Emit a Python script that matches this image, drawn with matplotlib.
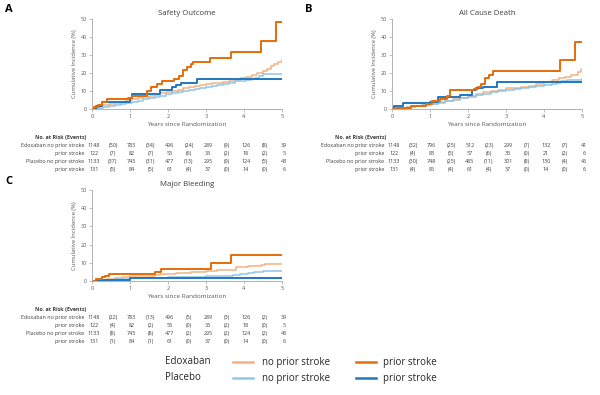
import numpy as np
import matplotlib
matplotlib.use("Agg")
from matplotlib import pyplot as plt
from matplotlib.lines import Line2D
from matplotlib.transforms import blended_transform_factory

plt.rcParams['font.family'] = ['Open Sans', 'DejaVu Sans']

"""Datos"""

# colores
C_EDOX_NP = '#F4B183'
C_EDOX_P = '#E46C0A'
C_PLAC_NP = '#92C5E8'
C_PLAC_P = '#1F78C1'

titles = ["Safety Outcome", "All Cause Death", "Major Bleeding"]
panel_letters = ["A", "B", "C"]

# A - Safety Outcome
a_edox_np_t = [0, 0.1, 0.2, 0.3, 0.45, 0.6, 0.75, 0.9, 1.05, 1.2, 1.35, 1.5, 1.65, 1.8, 1.95, 2.1, 2.25, 2.4,
               2.55, 2.7, 2.85, 3.0, 3.15, 3.3, 3.45, 3.6, 3.75, 3.9, 4.05, 4.2, 4.35, 4.5, 4.6, 4.7, 4.8, 4.9, 5.0]
a_edox_np_v = [0, 0.8, 1.5, 2.2, 2.9, 3.5, 4.1, 4.8, 5.5, 6.1, 6.7, 7.4, 8.0, 8.7, 9.3, 10.0, 10.7, 11.4,
               12.0, 12.6, 13.2, 13.8, 14.3, 14.7, 15.1, 15.6, 16.2, 17.0, 17.8, 18.8, 19.8, 21.2, 22.5, 23.8, 25.0, 26.2, 27.0]
a_edox_p_t = [0, 0.05, 0.15, 0.25, 0.4, 0.95, 1.05, 1.45, 1.55, 1.7, 1.85, 2.15, 2.3, 2.4, 2.5, 2.6, 2.65,
              3.1, 3.65, 4.45, 4.85, 5.0]
a_edox_p_v = [0, 1.0, 2.5, 3.8, 5.3, 6.3, 7.5, 10.0, 12.5, 14.0, 15.5, 16.5, 18.5, 21.5, 23.5, 25.0, 26.0,
              28.3, 31.8, 37.8, 48.2, 48.2]
a_plac_np_t = [0, 0.15, 0.3, 0.45, 0.6, 0.75, 0.9, 1.05, 1.2, 1.35, 1.5, 1.65, 1.8, 1.95, 2.1, 2.25, 2.4, 2.55,
               2.7, 2.85, 3.0, 3.15, 3.3, 3.45, 3.6, 3.75, 3.9, 4.05, 4.2, 4.3, 4.4, 4.5, 4.7, 5.0]
a_plac_np_v = [0, 0.5, 1.0, 1.6, 2.1, 2.7, 3.3, 4.0, 4.7, 5.4, 6.0, 6.8, 7.5, 8.2, 8.8, 9.4, 10.0, 10.5,
               11.1, 11.7, 12.3, 12.9, 13.5, 14.1, 14.7, 15.3, 15.8, 16.2, 16.8, 17.5, 18.5, 19.3, 19.6, 19.6]
a_plac_p_t = [0, 0.1, 0.25, 1.0, 1.05, 1.8, 2.1, 2.2, 2.35, 2.75, 5.0]
a_plac_p_v = [0, 1.8, 4.0, 6.0, 8.5, 10.3, 12.0, 13.2, 14.5, 16.7, 16.7]

# B - All Cause Death
b_edox_np_t = [0, 0.2, 0.4, 0.6, 0.8, 1.0, 1.2, 1.4, 1.6, 1.8, 2.0, 2.2, 2.4, 2.6, 2.8, 3.0, 3.2, 3.4, 3.6,
               3.8, 4.0, 4.2, 4.4, 4.55, 4.7, 4.9, 4.97, 5.0]
b_edox_np_v = [0, 0.5, 1.0, 1.6, 2.2, 3.0, 3.8, 4.6, 5.4, 6.3, 7.2, 8.3, 9.4, 10.2, 10.8, 11.4, 11.9, 12.4, 13.0,
               14.0, 15.0, 16.0, 17.0, 18.0, 19.0, 20.5, 22.5, 22.5]
b_edox_p_t = [0, 0.1, 0.5, 0.9, 1.05, 1.25, 1.45, 1.52, 2.15, 2.25, 2.35, 2.45, 2.55, 2.65, 4.42, 4.82, 5.0]
b_edox_p_v = [0, 0.5, 1.5, 3.0, 4.5, 5.5, 7.5, 10.5, 11.2, 12.0, 14.0, 17.0, 19.0, 21.0, 27.0, 37.5, 37.5]
b_plac_np_t = [0, 0.2, 0.4, 0.6, 0.8, 1.0, 1.2, 1.4, 1.6, 1.8, 2.0, 2.2, 2.4, 2.6, 2.8, 3.0, 3.2, 3.4, 3.6,
               3.8, 4.0, 4.2, 4.35, 4.45, 4.6, 5.0]
b_plac_np_v = [0, 0.4, 0.9, 1.4, 2.0, 2.7, 3.4, 4.2, 5.0, 5.9, 6.8, 7.6, 8.4, 9.2, 9.8, 10.3, 10.9, 11.6, 12.2,
               12.9, 13.5, 13.8, 14.2, 15.5, 16.3, 16.5]
b_plac_p_t = [0, 0.05, 0.28, 1.0, 1.2, 1.8, 2.1, 2.2, 2.4, 2.75, 5.0]
b_plac_p_v = [0, 1.5, 3.3, 4.0, 6.5, 8.0, 10.5, 11.5, 12.5, 14.8, 14.8]

# C - Major Bleeding
c_edox_np_t = [0, 0.2, 0.4, 0.6, 0.8, 1.0, 1.3, 1.65, 1.8, 2.2, 2.6, 3.0, 3.3, 3.6, 3.8, 4.1, 4.45, 4.55, 5.0]
c_edox_np_v = [0, 0.7, 1.3, 1.8, 2.2, 2.6, 3.0, 3.5, 4.0, 4.4, 4.8, 5.3, 5.8, 6.2, 7.8, 8.2, 8.8, 9.5, 9.5]
c_edox_p_t = [0, 0.1, 0.25, 0.35, 0.45, 1.65, 1.82, 3.13, 3.65, 5.0]
c_edox_p_v = [0, 1.0, 2.0, 3.0, 3.6, 5.0, 6.7, 9.7, 14.2, 14.2]
c_plac_np_t = [0, 0.3, 0.6, 1.0, 1.5, 2.0, 2.5, 3.0, 3.4, 3.7, 3.9, 4.1, 4.25, 4.5, 5.0]
c_plac_np_v = [0, 0.5, 0.9, 1.4, 1.8, 2.0, 2.2, 2.5, 2.8, 3.3, 3.7, 4.3, 5.2, 5.4, 5.4]
c_plac_p_t = [0, 0.3, 1.0, 5.0]
c_plac_p_v = [0, 0.8, 1.8, 1.8]

# Tablas de riesgo: numero en riesgo y (eventos)
row_labels = ["Edoxaban no prior stroke", "prior stroke", "Placebo no prior stroke", "prior stroke"]
risk_a = [[1148, 783, 496, 289, 126, 39], [122, 82, 55, 35, 18, 5],
          [1133, 745, 477, 295, 124, 43], [131, 84, 61, 37, 14, 6]]
events_a = [[50, 34, 24, 9, 8], [7, 7, 6, 2, 2], [37, 31, 13, 9, 5], [5, 5, 4, 0, 0]]
risk_b = [[1148, 796, 512, 299, 132, 41], [122, 83, 57, 36, 21, 6],
          [1133, 748, 485, 301, 130, 45], [131, 85, 61, 37, 14, 6]]
events_b = [[32, 25, 23, 7, 7], [4, 5, 6, 0, 2], [30, 25, 11, 8, 4], [4, 4, 4, 0, 0]]
risk_c = [[1148, 783, 496, 289, 126, 39], [122, 82, 55, 35, 18, 5],
          [1133, 745, 477, 295, 124, 43], [131, 84, 61, 37, 14, 6]]
events_c = [[22, 13, 5, 3, 2], [4, 2, 0, 2, 0], [8, 8, 2, 2, 2], [1, 1, 0, 0, 0]]

curvas = [
    [(a_edox_np_t, a_edox_np_v), (a_plac_np_t, a_plac_np_v), (a_plac_p_t, a_plac_p_v), (a_edox_p_t, a_edox_p_v)],
    [(b_edox_np_t, b_edox_np_v), (b_plac_np_t, b_plac_np_v), (b_plac_p_t, b_plac_p_v), (b_edox_p_t, b_edox_p_v)],
    [(c_edox_np_t, c_edox_np_v), (c_plac_np_t, c_plac_np_v), (c_plac_p_t, c_plac_p_v), (c_edox_p_t, c_edox_p_v)],
]
colores = [C_EDOX_NP, C_PLAC_NP, C_PLAC_P, C_EDOX_P]
anchos = [1.1, 1.1, 1.4, 1.4]
tablas = [(risk_a, events_a), (risk_b, events_b), (risk_c, events_c)]

"""Figura"""

W, H = 600, 395
fig = plt.figure(figsize=(6, 3.95), dpi=100)

def fy(py):
    return 1 - py / H

# posiciones en pixeles: (x0 eje, y del 0, y del 50)
pos = [(92, 109, 19), (392, 109, 19), (92, 281, 190)]
gris = '#A6A6A6'
texto = '#404040'

for k in range(3):
    x0, y0, y50 = pos[k]
    ax = fig.add_axes([x0 / W, fy(y0), 190 / W, (y0 - y50) / H])
    for (t, v), c, lw in zip(curvas[k], colores, anchos):
        ax.step(t, v, where='post', color=c, lw=lw)
    ax.set_xlim(0, 5)
    ax.set_ylim(0, 50)
    ax.set_xticks(range(6))
    ax.set_yticks(range(0, 51, 10))
    for s in ['top', 'right']:
        ax.spines[s].set_visible(False)
    for s in ['left', 'bottom']:
        ax.spines[s].set_color(gris)
        ax.spines[s].set_linewidth(0.6)
    ax.tick_params(length=2, width=0.5, color=gris, labelsize=4, labelcolor='#595959', pad=1.5)
    ax.set_title(titles[k], fontsize=5.6, pad=3, color=texto)
    ax.set_xlabel("Years since Randomization", fontsize=4.6, labelpad=2, color='#595959')
    ax.set_ylabel("Cumulative Incidence (%)", fontsize=4.2, labelpad=3, color='#595959')

    fig.text((x0 - 87) / W, fy(y50 - 9), panel_letters[k], fontsize=8, fontweight='bold',
             ha='left', va='center')

    # tabla de riesgo
    tr = blended_transform_factory(ax.transData, fig.transFigure)
    yh = y0 + 28
    fig.text(-1.5, fy(yh), "No. at Risk (Events)", transform=tr, fontsize=3.9,
             fontweight='bold', ha='left', va='center', color=texto)
    riesgo, eventos = tablas[k]
    for i in range(4):
        yr = yh + 8.5 + 8 * i
        fig.text(-0.2, fy(yr), row_labels[i], transform=tr, fontsize=3.9,
                 ha='right', va='center', color=texto)
        for j in range(6):
            fig.text(j + 0.05, fy(yr), str(riesgo[i][j]), transform=tr, fontsize=3.9,
                     ha='center', va='center', color=texto)
        for j in range(5):
            fig.text(j + 0.55, fy(yr), "(%d)" % eventos[i][j], transform=tr, fontsize=3.9,
                     ha='center', va='center', color=texto)

# leyenda
ley_y = [362, 378]
ley_grupos = ["Edoxaban", "Placebo"]
ley_col = [(C_EDOX_NP, C_EDOX_P), (C_PLAC_NP, C_PLAC_P)]
for i in range(2):
    y = fy(ley_y[i])
    fig.text(165 / W, y, ley_grupos[i], fontsize=7, ha='left', va='center', color='#262626')
    fig.add_artist(Line2D([233 / W, 253 / W], [y, y], color=ley_col[i][0], lw=1.8))
    fig.text(262 / W, y, "no prior stroke", fontsize=7, ha='left', va='center', color='#262626')
    fig.add_artist(Line2D([356 / W, 376 / W], [y, y], color=ley_col[i][1], lw=1.8))
    fig.text(383 / W, y, "prior stroke", fontsize=7, ha='left', va='center', color='#262626')

plt.savefig("out.png", dpi=100)
